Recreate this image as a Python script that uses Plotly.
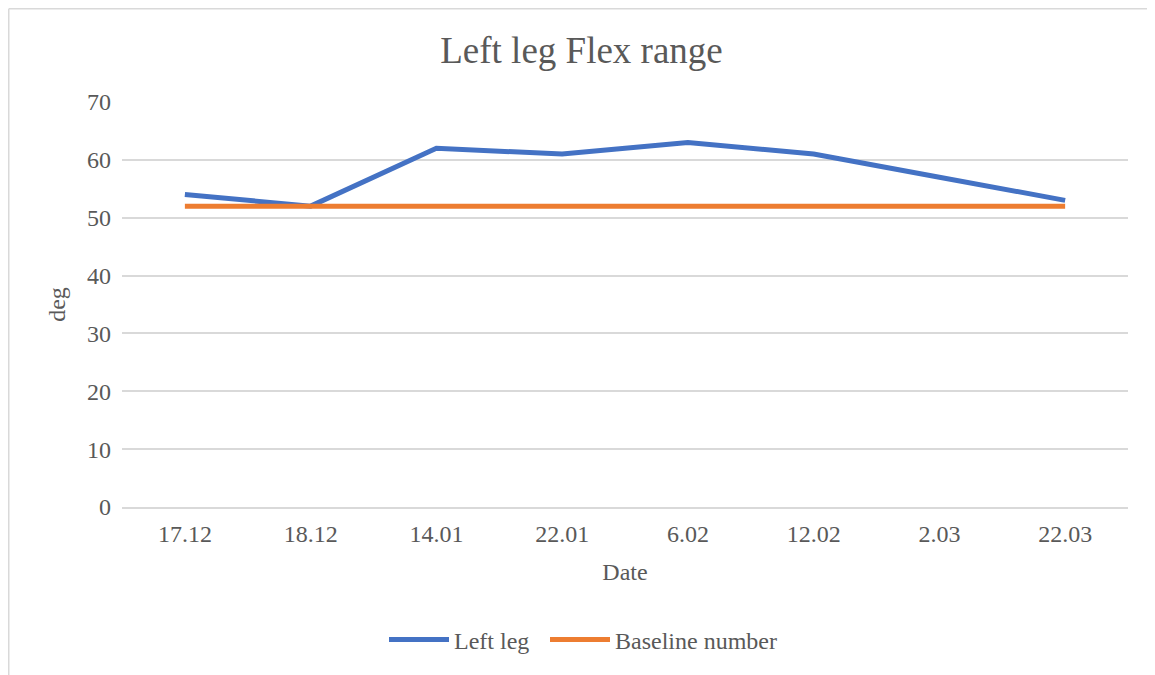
import plotly.graph_objects as go

dates = ["17.12", "18.12", "14.01", "22.01", "6.02", "12.02", "2.03", "22.03"]
left_leg = [54, 52, 62, 61, 63, 61, 57, 53]
baseline = [52, 52, 52, 52, 52, 52, 52, 52]
y_ticks = [0, 10, 20, 30, 40, 50, 60, 70]

FONT = "Liberation Serif, Times New Roman, serif"
TXT = "#595959"

fig = go.Figure()
fig.add_trace(go.Scatter(x=dates, y=left_leg, mode="lines", name="Left leg",
                         line=dict(color="#4472C4", width=5), legend="legend"))
fig.add_trace(go.Scatter(x=dates, y=baseline, mode="lines", name="Baseline number",
                         line=dict(color="#ED7D31", width=5), legend="legend2"))

PW, PH = 1006, 405  # plot area size in px
L, T = 114, 94

leg_common = dict(orientation="h", xanchor="left", yanchor="middle", y=-0.328,
                  font=dict(size=24, color=TXT), itemwidth=60, bgcolor="rgba(0,0,0,0)")

fig.update_layout(
    width=1147, height=667,
    margin=dict(l=L, r=27, t=T, b=168),
    paper_bgcolor="white", plot_bgcolor="white",
    font=dict(family=FONT, color=TXT, size=24),
    title=dict(text="Left leg Flex range", x=0.5, xanchor="center", y=0.937, yanchor="middle",
               font=dict(family=FONT, size=37, color=TXT)),
    xaxis=dict(type="category", range=[-0.5, 7.5], showgrid=False, showline=True,
               linecolor="#d9d9d9", linewidth=1.5, ticks="", tickfont=dict(size=24, color=TXT),
               ticklabelstandoff=4,
               title=dict(text="Date", font=dict(size=24, color=TXT), standoff=18)),
    yaxis=dict(range=[0, 70], tickvals=y_ticks, showgrid=True, gridcolor="#d9d9d9", gridwidth=1.5,
               zeroline=False, showline=False, ticks="", tickfont=dict(size=24, color=TXT),
               ticklabelstandoff=10,
               title=dict(text="deg", font=dict(size=24, color=TXT), standoff=14)),
    legend=dict(x=(392 - 8 - 122) / PW, **leg_common),
    legend2=dict(x=(553 - 8 - 122) / PW, **leg_common),
    showlegend=True,
)

# outer chart frame: top and left edges
x_left = (0.75 - L) / PW
x_right = (1147 - L) / PW
y_top = (T + PH - 0.75) / PH
y_bot = (T + PH - 667) / PH
fig.add_shape(type="line", xref="paper", yref="paper", x0=x_left, x1=x_right, y0=y_top, y1=y_top,
              line=dict(color="#d9d9d9", width=1.5), layer="below")
fig.add_shape(type="line", xref="paper", yref="paper", x0=x_left, x1=x_left, y0=y_top, y1=y_bot,
              line=dict(color="#d9d9d9", width=1.5), layer="below")

fig.write_html("out.html")
